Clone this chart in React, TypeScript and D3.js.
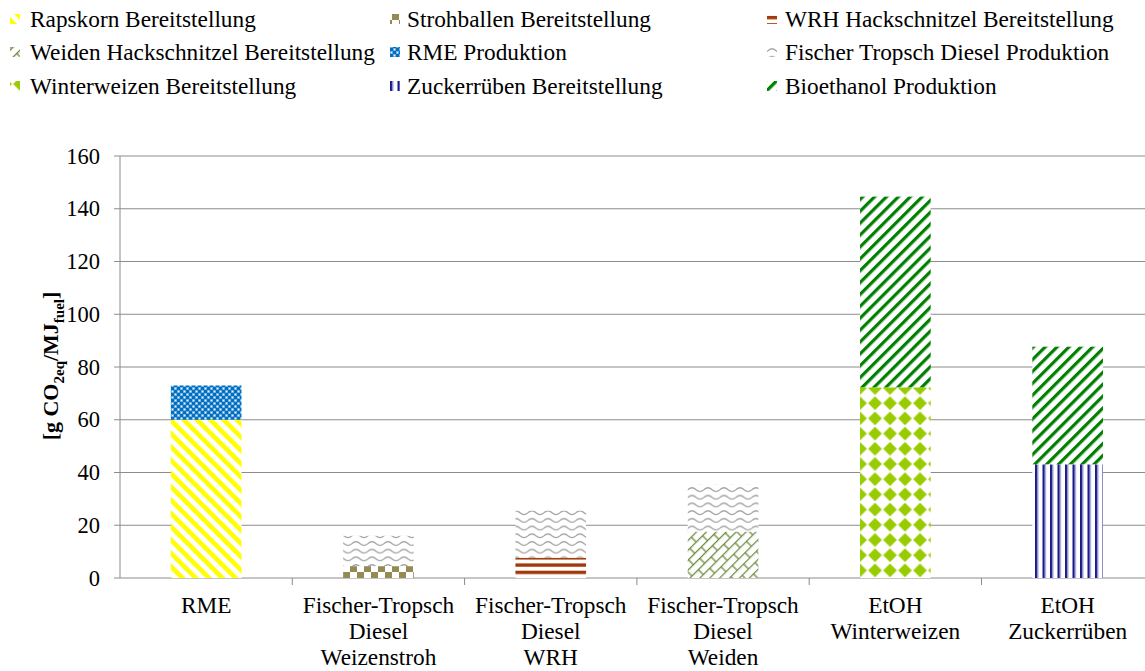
import React from "react";
import * as d3 from "d3";

const categories = [
  ["RME"],
  ["Fischer-Tropsch", "Diesel", "Weizenstroh"],
  ["Fischer-Tropsch", "Diesel", "WRH"],
  ["Fischer-Tropsch", "Diesel", "Weiden"],
  ["EtOH", "Winterweizen"],
  ["EtOH", "Zuckerrüben"],
];

const seriesNames = [
  "Rapskorn Bereitstellung",
  "Strohballen Bereitstellung",
  "WRH Hackschnitzel Bereitstellung",
  "Weiden Hackschnitzel Bereitstellung",
  "RME Produktion",
  "Fischer Tropsch Diesel Produktion",
  "Winterweizen Bereitstellung",
  "Zuckerrüben Bereitstellung",
  "Bioethanol Produktion",
];

// values per series, one per category
const rapskorn = [60, 0, 0, 0, 0, 0];
const strohballen = [0, 4.5, 0, 0, 0, 0];
const wrh = [0, 0, 7.7, 0, 0, 0];
const weiden = [0, 0, 0, 17.6, 0, 0];
const rmeProd = [13, 0, 0, 0, 0, 0];
const ftProd = [0, 11.5, 17.8, 17.9, 0, 0];
const winterweizen = [0, 0, 0, 0, 72.3, 0];
const zucker = [0, 0, 0, 0, 0, 43.1];
const bioethanol = [0, 0, 0, 0, 72.3, 44.6];

const stackOrder = [rapskorn, strohballen, wrh, weiden, rmeProd, ftProd, winterweizen, zucker, bioethanol];
const patternIds = ["p-raps", "p-stroh", "p-wrh", "p-weiden", "p-rme", "p-ft", "p-ww", "p-zr", "p-bio"];

const yTicks = [0, 20, 40, 60, 80, 100, 120, 140, 160];

const FONT = "'Liberation Serif', 'Times New Roman', serif";

function Patterns({ wwX }: { wwX: number }) {
  return (
    <defs>
      <pattern id="p-raps" patternUnits="userSpaceOnUse" width="9.4" height="9.4" patternTransform="rotate(-45)">
        <rect width="9.4" height="9.4" fill="#fff" />
        <rect width="4.6" height="9.4" fill="#FFFF00" />
      </pattern>
      <pattern id="p-bio" patternUnits="userSpaceOnUse" width="8.4" height="8.4" patternTransform="rotate(45)">
        <rect width="8.4" height="8.4" fill="#fff" />
        <rect width="3.2" height="8.4" fill="#008000" />
      </pattern>
      <pattern id="p-rme" patternUnits="userSpaceOnUse" width="6" height="6">
        <rect width="6" height="6" fill="#5fa4dc" />
        <rect x="0" y="0" width="3" height="3" fill="#0070C0" />
        <rect x="3" y="3" width="3" height="3" fill="#0070C0" />
        <rect x="3.8" y="0.8" width="1.4" height="1.4" fill="#fff" />
        <rect x="0.8" y="3.8" width="1.4" height="1.4" fill="#fff" />
      </pattern>
      <pattern id="p-stroh" patternUnits="userSpaceOnUse" width="14" height="12" y="578">
        <rect width="14" height="12" fill="#fff" />
        <rect x="0" y="0" width="7" height="6" fill="#948A54" />
        <rect x="7" y="6" width="7" height="6" fill="#948A54" />
      </pattern>
      <pattern id="p-ft" patternUnits="userSpaceOnUse" width="16" height="7.7">
        <rect width="16" height="7.7" fill="#fff" />
        <path d="M0,4.5 Q4,0.8 8,4.5 T16,4.5" fill="none" stroke="#a3a3a3" strokeWidth="1.3" />
      </pattern>
      <pattern id="p-wrh" patternUnits="userSpaceOnUse" width="8" height="7.3" y="578">
        <rect width="8" height="7.3" fill="#fff" />
        <rect y="0" width="8" height="3.4" fill="#A3380B" />
      </pattern>
      <pattern id="p-weiden" patternUnits="userSpaceOnUse" width="18" height="14" patternTransform="rotate(-45)">
        <rect width="18" height="14" fill="#fff" />
        <path d="M0,0.6 H18 M0,7.6 H18 M1,0 V7 M10,7 V14" fill="none" stroke="#6E8B3D" strokeWidth="1.3" />
      </pattern>
      <pattern id="p-ww" patternUnits="userSpaceOnUse" width="15" height="15.2" x={wwX} y="578">
        <rect width="15" height="15.2" fill="#fff" />
        <path d="M7.5,0.6 L14.4,7.6 L7.5,14.6 L0.6,7.6 Z" fill="#99CC00" />
      </pattern>
      <pattern id="p-zr" patternUnits="userSpaceOnUse" width="7.5" height="10">
        <rect width="7.5" height="10" fill="#fff" />
        <rect x="0" width="2.4" height="10" fill="#1A1A8C" />
        <rect x="2.4" width="1" height="10" fill="#9a9ad0" />
      </pattern>
    </defs>
  );
}

export default function App() {
  const width = 1145;
  const height = 671;
  const left = 120;
  const step = 172.3;
  const right = left + step * categories.length;
  const y0 = 578;
  const yTop = 156;

  const x = d3
    .scaleBand<number>()
    .domain(categories.map((_, i) => i))
    .range([left, right])
    .paddingInner(0.59)
    .paddingOuter(0.295);
  const y = d3.scaleLinear().domain([0, 160]).range([y0, yTop]);

  const bars: React.ReactNode[] = [];
  categories.forEach((_, ci) => {
    let acc = 0;
    stackOrder.forEach((s, si) => {
      const v = s[ci];
      if (v <= 0) return;
      const yb = y(acc);
      const yt = y(acc + v);
      acc += v;
      bars.push(
        <rect
          key={`${ci}-${si}`}
          x={x(ci)}
          y={yt}
          width={x.bandwidth()}
          height={yb - yt}
          fill={`url(#${patternIds[si]})`}
        />
      );
    });
  });

  const legendCols = [
    { mx: 10, tx: 30 },
    { mx: 390, tx: 407 },
    { mx: 767, tx: 785 },
  ];
  const legendRows = [27, 60, 94];

  return (
    <svg width={width} height={height} style={{ position: "absolute", left: 0, top: 0 }} fontFamily={FONT}>
      <Patterns wwX={(x(4) as number) - 7.5} />
      <rect width={width} height={height} fill="#fff" />
      {/* legend */}
      {seriesNames.map((name, i) => {
        const col = legendCols[i % 3];
        const row = legendRows[Math.floor(i / 3)];
        return (
          <g key={name}>
            <rect x={col.mx} y={row - 13} width={10} height={10} fill={`url(#${patternIds[i]})`} />
            <text x={col.tx} y={row} fontSize={23.3} fill="#000">
              {name}
            </text>
          </g>
        );
      })}
      {/* gridlines */}
      {yTicks.map((t) => (
        <g key={t}>
          <line x1={left - 6} x2={width} y1={y(t)} y2={y(t)} stroke="#8c8c8c" strokeWidth={1} />
          <text x={100} y={y(t) + 7.5} fontSize={22.5} textAnchor="end" fill="#000">
            {t}
          </text>
        </g>
      ))}
      <line x1={left} x2={left} y1={yTop} y2={y0} stroke="#8c8c8c" />
      {categories.map((_, i) => (
        <line key={i} x1={left + step * (i + 1)} x2={left + step * (i + 1)} y1={y0} y2={y0 + 7} stroke="#8c8c8c" />
      ))}
      {bars}
      {/* x labels */}
      {categories.map((lines, i) => (
        <text key={i} x={(x(i) as number) + x.bandwidth() / 2} textAnchor="middle" fontSize={23.3} fill="#000">
          {lines.map((l, j) => (
            <tspan key={j} x={(x(i) as number) + x.bandwidth() / 2} y={613 + j * 26}>
              {l}
            </tspan>
          ))}
        </text>
      ))}
      {/* y title */}
      <text transform="translate(58,366) rotate(-90)" textAnchor="middle" fontSize={22} fontWeight="bold" fill="#000">
        [g CO
        <tspan fontSize={15} dy={6}>2eq</tspan>
        <tspan dy={-6}>/MJ</tspan>
        <tspan fontSize={15} dy={6}>fuel</tspan>
        <tspan dy={-6}>]</tspan>
      </text>
    </svg>
  );
}
